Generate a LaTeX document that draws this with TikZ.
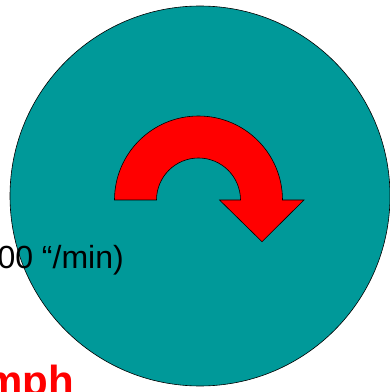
\documentclass[tikz,border=0pt]{standalone}
\usepackage{fontspec}
\setmainfont{Liberation Sans}
\definecolor{discteal}{RGB}{0,153,153}
\definecolor{arrowred}{RGB}{255,0,0}
\tikzset{
  disc/.style={fill=discteal,draw=black,line width=0.6pt},
  turnarrow/.style={fill=arrowred,draw=black,line width=0.6pt,line join=miter},
  ratelabel/.style={inner sep=0pt,font=\fontsize{32}{36}\selectfont,text=black},
  speedlabel/.style={inner sep=0pt,font=\fontsize{42}{48}\selectfont\bfseries,text=arrowred}
}
\begin{document}
\begin{tikzpicture}[x=1pt,y=1pt]
\useasboundingbox (0,0) rectangle (390,392);
\fill[white] (0,0) rectangle (390,392);
\draw[disc] (200,196) circle[radius=190];
\draw[turnarrow] (114.5,192) arc[start angle=180,end angle=0,radius=84]
  -- (304,192) -- (262,150.3) -- (219.5,192) -- (240.5,192)
  arc[start angle=0,end angle=180,radius=42] -- cycle;
\node[ratelabel,anchor=base east] (rate) at (124,124) {00 “/min)};
\node[speedlabel,anchor=base east] (speed) at (74.5,-3) {mph};
\end{tikzpicture}
\end{document}
